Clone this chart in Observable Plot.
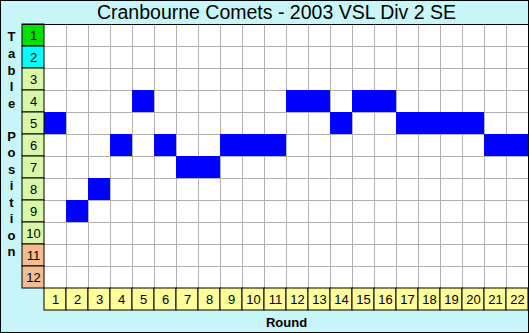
<!DOCTYPE html>
<html><head><meta charset="utf-8">
<script src="https://cdn.jsdelivr.net/npm/d3@7"></script>
<script src="https://cdn.jsdelivr.net/npm/@observablehq/plot@0.6"></script>
<style>
html,body{margin:0;padding:0;background:#fff;}
svg{display:block;}
</style>
</head><body>
<div id="chart"></div>
<script>
const title = "Cranbourne Comets - 2003 VSL Div 2 SE";
const rounds = d3.range(1, 23);
const positionsList = d3.range(1, 13);
const teamPosition = [5, 9, 8, 6, 4, 6, 7, 7, 6, 6, 6, 4, 4, 5, 4, 4, 5, 5, 5, 5, 6, 6];
const yLabelLetters = "T\na\nb\nl\ne\n\nP\no\ns\ni\nt\ni\no\nn";

const nR = rounds.length, nP = positionsList.length;
const cells = rounds.map((r, i) => ({round: r, pos: teamPosition[i]}));
const posFill = p => p === 1 ? "#00e000" : p === 2 ? "#00ffff" : p <= 10 ? "#d8f8a8" : "#f4bc90";

const chart = Plot.plot({
  width: 529,
  height: 333,
  marginLeft: 44,
  marginRight: 1,
  marginTop: 24,
  marginBottom: 45,
  style: {background: "#c8f6f8", outline: "1px solid #000", outlineOffset: "-1px", fontFamily: "Liberation Sans, Arial, sans-serif"},
  x: {type: "linear", domain: [0.5, nR + 0.5], axis: null},
  y: {type: "linear", domain: [0.5, nP + 0.5], reverse: true, axis: null},
  marks: [
    Plot.rect([0], {x1: 0.5, x2: nR + 0.5, y1: 0.5, y2: nP + 0.5, fill: "#fff"}),
    Plot.ruleX(d3.range(1.5, nR + 0.5), {y1: 0.5, y2: nP + 0.5, stroke: "#b4b0a8", strokeWidth: 1}),
    Plot.ruleY(d3.range(1.5, nP + 0.5), {x1: 0.5, x2: nR + 0.5, stroke: "#b4b0a8", strokeWidth: 1}),
    Plot.rect(cells, {x1: d => d.round - 0.5, x2: d => d.round + 0.5, y1: d => d.pos - 0.5, y2: d => d.pos + 0.5, fill: "#0000ff", inset: 0}),
    Plot.rect(positionsList, {x1: -0.5, x2: 0.5, y1: d => d - 0.5, y2: d => d + 0.5, fill: posFill, stroke: "#000", strokeWidth: 1, clip: false}),
    Plot.text(positionsList, {x: 0, y: d => d, text: d => String(d), fontSize: 13, fill: "#000", clip: false}),
    Plot.rect(rounds, {x1: d => d - 0.5, x2: d => d + 0.5, y1: nP + 0.5, y2: nP + 1.5, fill: "#ffff9c", stroke: "#000", strokeWidth: 1, clip: false}),
    Plot.text(rounds, {x: d => d, y: nP + 1, text: d => String(d), fontSize: 13, fill: "#000", clip: false}),
    Plot.ruleY([0.5], {x1: -0.5, x2: nR + 0.5, stroke: "#000", strokeWidth: 1, clip: false}),
    Plot.ruleX([nR + 0.5], {y1: 0.5, y2: nP + 1.5, stroke: "#000", strokeWidth: 1}),
    Plot.text([title], {frameAnchor: "top", lineAnchor: "middle", dy: -12, dx: -10, text: d => d, fontSize: 19.5, fill: "#000"}),
    Plot.text([yLabelLetters], {frameAnchor: "left", textAnchor: "middle", lineAnchor: "middle", dx: -33, dy: -13, text: d => d, fontSize: 13, fontWeight: "bold", lineHeight: 1.27, fill: "#000"}),
    Plot.text(["Round"], {frameAnchor: "bottom", lineAnchor: "middle", dy: 34, text: d => d, fontSize: 13, fontWeight: "bold", fill: "#000"})
  ]
});
document.getElementById("chart").appendChild(chart);
</script>
</body></html>
